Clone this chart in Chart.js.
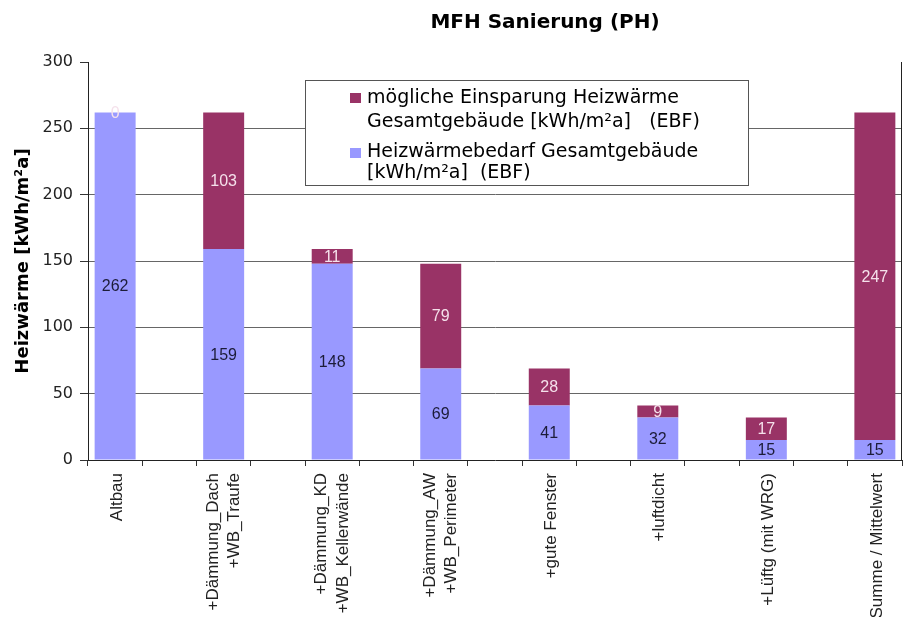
<!DOCTYPE html>
<html><head><meta charset="utf-8">
<script src="https://cdn.jsdelivr.net/npm/chart.js@4.4.0/dist/chart.umd.min.js"></script>
<style>html,body{margin:0;padding:0;background:#fff}#wrap{width:904px;height:617px}</style>
</head><body><div id="wrap"><canvas id="c" width="904" height="617"></canvas></div>
<script>
const chartTitle = 'MFH Sanierung (PH)';
const yAxisTitle = 'Heizwärme [kWh/m²a]';
const categories = ['Altbau', '', ['+Dämmung_Dach', '+WB_Traufe'], '', ['+Dämmung_KD', '+WB_Kellerwände'], '', ['+Dämmung_AW', '+WB_Perimeter'], '', '+gute Fenster', '', '+luftdicht', '', '+Lüftg (mit WRG)', '', 'Summe / Mittelwert'];
const heatDemand = [262, null, 159, null, 148, null, 69, null, 41, null, 32, null, 15, null, 15];
const savings = [0, null, 103, null, 11, null, 79, null, 28, null, 9, null, 17, null, 247];
const yTicks = [0, 50, 100, 150, 200, 250, 300];
const legendSavings = ['mögliche Einsparung Heizwärme', 'Gesamtgebäude [kWh/m²a]   (EBF)'];
const legendDemand = ['Heizwärmebedarf Gesamtgebäude', '[kWh/m²a]  (EBF)'];

const COL_DEMAND = '#9999FF';
const COL_SAVE = '#993366';

const overlay = {
  id: 'overlay',
  beforeDraw(chart) {
    // centre multi-line category labels on their bar
    const items = chart.scales.x.getLabelItems();
    items.forEach(it => {
      if (it._shifted) return;
      it._shifted = true;
      if (Array.isArray(it.label)) it.options.translation[0] -= 10.5;
      else it.options.translation[0] += 2;
    });
  },
  afterDatasetsDraw(chart) {
    const ctx = chart.ctx;
    ctx.save();
    ctx.font = '16px "Liberation Sans", Arial, sans-serif';
    ctx.textAlign = 'center';
    ctx.textBaseline = 'middle';
    chart.data.datasets.forEach((ds, di) => {
      const meta = chart.getDatasetMeta(di);
      meta.data.forEach((el, i) => {
        const v = ds.data[i];
        if (v === null || v === undefined) return;
        const p = el.getProps(['x', 'y', 'base'], true);
        ctx.fillStyle = ds.labelColor;
        ctx.fillText(String(v), p.x, (p.y + p.base) / 2 + 1);
      });
    });
    ctx.restore();
  },
  afterDraw(chart) {
    const ctx = chart.ctx;
    const a = chart.chartArea;
    ctx.save();
    // right border of plot area
    ctx.strokeStyle = '#222';
    ctx.lineWidth = 1;
    ctx.beginPath();
    ctx.moveTo(a.right - 0.5, a.top);
    ctx.lineTo(a.right - 0.5, a.bottom);
    ctx.stroke();
    // title
    ctx.fillStyle = '#000';
    ctx.font = 'bold 20px "DejaVu Sans", sans-serif';
    ctx.textAlign = 'center';
    ctx.textBaseline = 'alphabetic';
    ctx.fillText(chartTitle, 545, 28);
    // legend
    const lx = 305, ly = 80, lw = 443, lh = 105;
    ctx.fillStyle = '#fff';
    ctx.fillRect(lx, ly, lw, lh);
    ctx.strokeStyle = '#555';
    ctx.strokeRect(lx + 0.5, ly + 0.5, lw, lh);
    const entries = [
      {color: COL_SAVE, lines: legendSavings, sq: 93, base: [103, 127]},
      {color: COL_DEMAND, lines: legendDemand, sq: 148, base: [157, 178]}
    ];
    ctx.font = '19px "DejaVu Sans", sans-serif';
    ctx.textAlign = 'left';
    entries.forEach(e => {
      ctx.fillStyle = e.color;
      ctx.fillRect(350, e.sq, 11, 10);
      ctx.fillStyle = '#000';
      e.lines.forEach((t, j) => ctx.fillText(t, 367, e.base[j]));
    });
    ctx.restore();
  }
};

new Chart(document.getElementById('c'), {
  type: 'bar',
  data: {
    labels: categories,
    datasets: [
      {label: legendDemand.join(' '), data: heatDemand, backgroundColor: COL_DEMAND, labelColor: '#1c1c38', barPercentage: 0.755, categoryPercentage: 1},
      {label: legendSavings.join(' '), data: savings, backgroundColor: COL_SAVE, labelColor: '#f5e1eb', barPercentage: 0.755, categoryPercentage: 1}
    ]
  },
  options: {
    responsive: false,
    animation: false,
    devicePixelRatio: 1,
    layout: {padding: {top: 62, right: 2, left: 0, bottom: 0}},
    plugins: {legend: {display: false}, title: {display: false}, tooltip: {enabled: false}},
    scales: {
      x: {
        stacked: true,
        grid: {display: true, offset: true, drawOnChartArea: false, tickLength: 6, tickColor: '#333'},
        border: {color: '#222'},
        ticks: {autoSkip: false, minRotation: 90, maxRotation: 90, padding: 7, color: '#222',
          font: {family: '"Liberation Sans", Arial, sans-serif', size: 17, lineHeight: 1.25}},
        afterFit(s) { s.height = 157; }
      },
      y: {
        stacked: true, min: 0, max: 300,
        afterBuildTicks(s) { s.ticks = yTicks.map(v => ({value: v})); },
        grid: {color: c => (c.tick && (c.tick.value === 0 || c.tick.value === 300)) ? 'rgba(0,0,0,0)' : '#666', tickColor: '#333', tickLength: 8},
        border: {color: '#222'},
        ticks: {padding: 7, color: '#222', font: {family: '"DejaVu Sans", sans-serif', size: 16}},
        title: {display: true, text: yAxisTitle, color: '#000', font: {family: '"DejaVu Sans", sans-serif', size: 18, weight: 'bold'}, padding: {top: 13, bottom: 0}},
        afterFit(s) { s.width = 88; }
      }
    }
  },
  plugins: [overlay]
});
</script>
</body></html>
